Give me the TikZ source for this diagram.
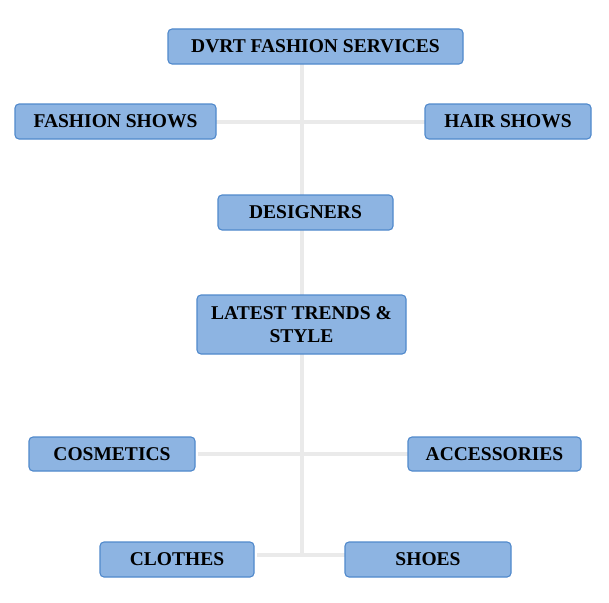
\documentclass[tikz,border=0pt]{standalone}
\usepackage{fontspec}
\setmainfont{Liberation Serif}
\begin{document}
\begin{tikzpicture}[x=1pt,y=-1pt,
  box/.style={draw=boxline,fill=boxfill,line width=1.1pt,rounded corners=4pt,
    inner sep=0pt,align=center,font=\fontsize{19.5}{23}\selectfont\bfseries},
  conn/.style={draw=connc,line width=4pt}]
\definecolor{boxfill}{HTML}{8DB4E2}
\definecolor{boxline}{HTML}{5089CC}
\definecolor{connc}{HTML}{EAEAEA}
\useasboundingbox (0,0) rectangle (609,602);
\fill[white] (0,0) rectangle (609,602);
% connectors first
\coordinate (top) at (302,64);
\coordinate (j3) at (302,555);
\coordinate (fsE) at (216,121.5);
\coordinate (hsW) at (425,121.5);
\coordinate (coE) at (198,454);
\coordinate (acW) at (408,454);
\coordinate (clE) at (257,555);
\coordinate (shW) at (345,555);
\coordinate (deT) at (302,195);
\coordinate (deB) at (302,230);
\coordinate (laT) at (302,295);
\coordinate (laB) at (302,354);
\draw[conn] (top) -- (deT);
\draw[conn] (fsE) -- (hsW);
\draw[conn] (deB) -- (laT);
\draw[conn] (laB) -- (j3);
\draw[conn] (coE) -- (acW);
\draw[conn] (clE) -- (shW);
% boxes
\node[box,minimum width=295pt,minimum height=35pt] (dvrt) at (315.5,46.5) {DVRT FASHION SERVICES};
\node[box,minimum width=201pt,minimum height=35pt] (fs) at (115.5,121.5) {FASHION SHOWS};
\node[box,minimum width=166pt,minimum height=35pt] (hs) at (508,121.5) {HAIR SHOWS};
\node[box,minimum width=175pt,minimum height=35pt] (de) at (305.5,212.5) {DESIGNERS};
\node[box,minimum width=209pt,minimum height=59pt] (la) at (301.5,324.5) {LATEST TRENDS \&\\STYLE};
\node[box,minimum width=166pt,minimum height=34pt] (co) at (112,454) {COSMETICS};
\node[box,minimum width=173pt,minimum height=34pt] (ac) at (494.5,454) {ACCESSORIES};
\node[box,minimum width=154pt,minimum height=35pt] (cl) at (177,559.5) {CLOTHES};
\node[box,minimum width=166pt,minimum height=35pt] (sh) at (428,559.5) {SHOES};
\end{tikzpicture}
\end{document}
